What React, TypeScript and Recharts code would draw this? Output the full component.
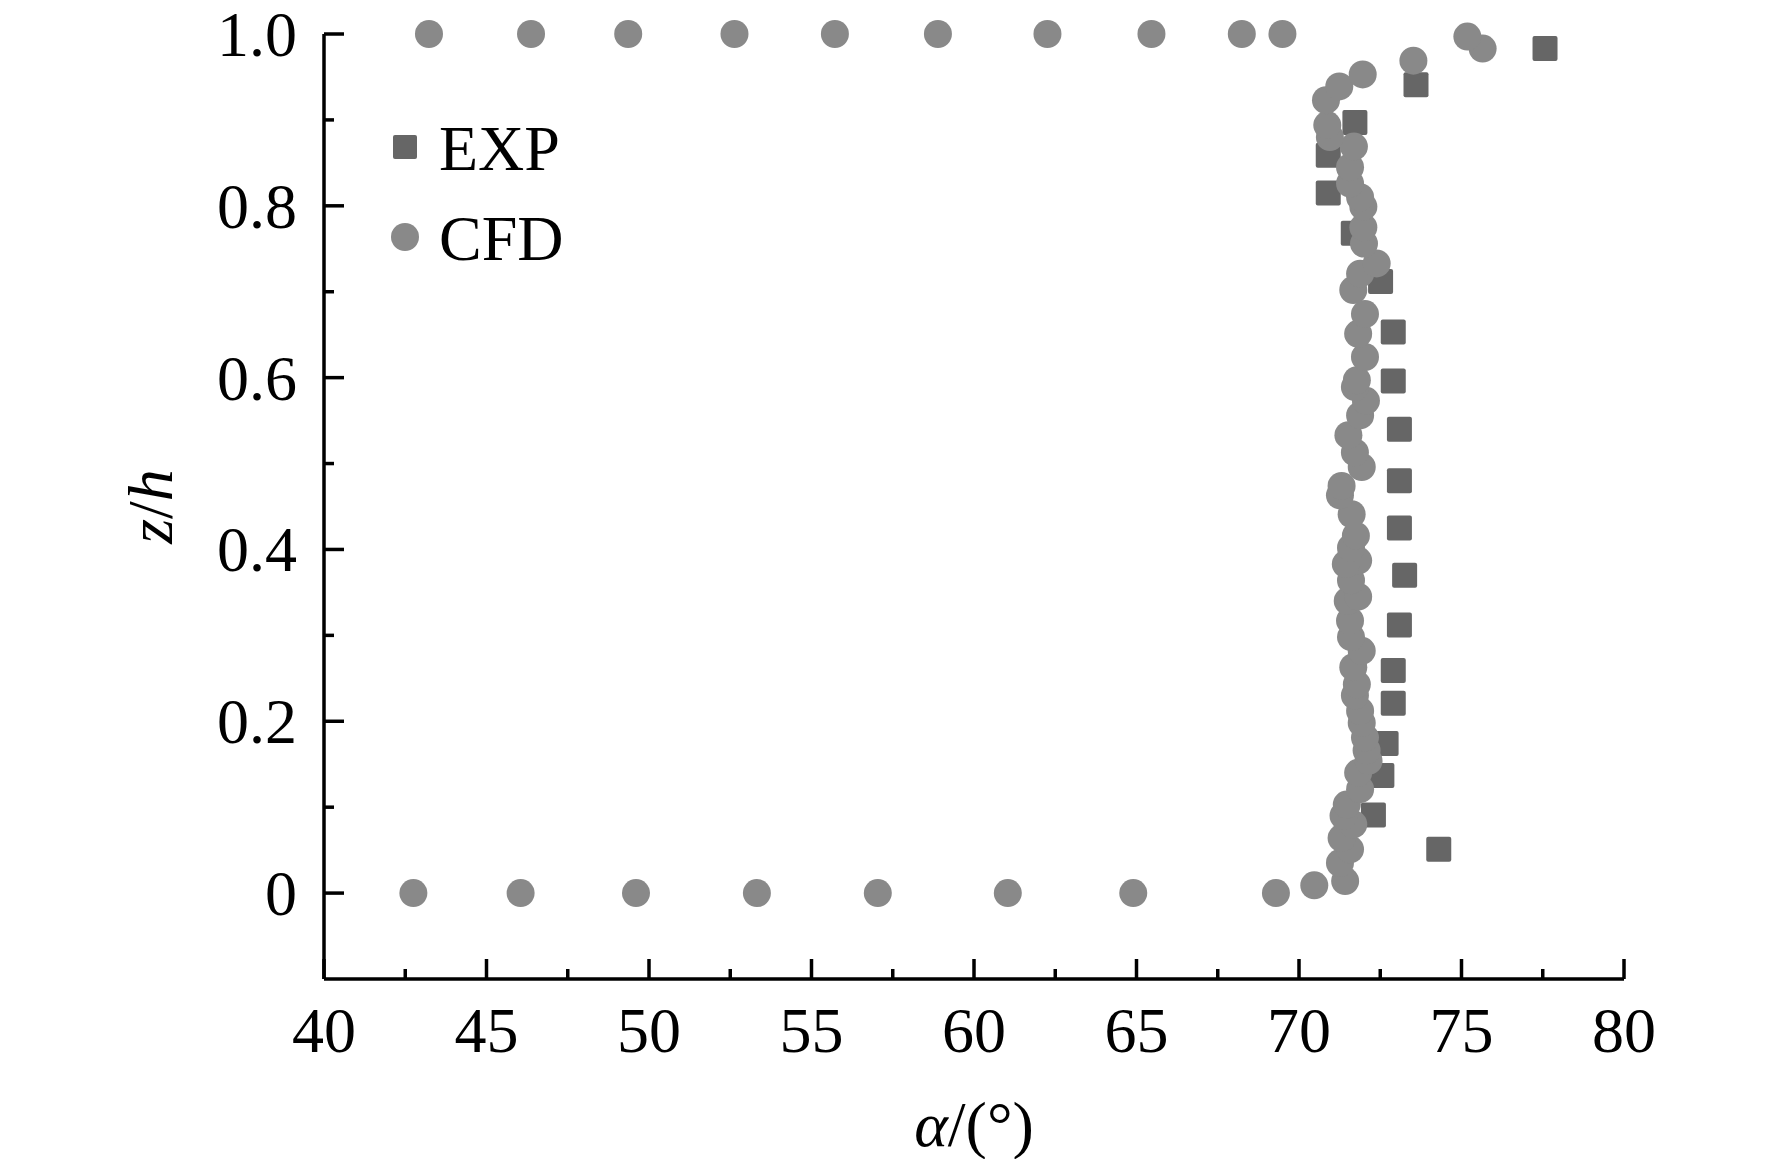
import { ScatterChart, Scatter, XAxis, YAxis, Legend, Label } from "recharts";

// EXP (measured) points: flow angle alpha (deg) vs z/h
const expAlpha = [77.57, 73.6, 71.72, 70.9, 70.9, 71.67, 72.51, 72.9, 72.9, 73.09, 73.09, 73.09, 73.25, 73.09, 72.9, 72.9, 72.68, 72.55, 72.29, 74.3];
const expZ = [0.983, 0.941, 0.897, 0.859, 0.815, 0.768, 0.712, 0.653, 0.596, 0.54, 0.48, 0.425, 0.37, 0.312, 0.259, 0.221, 0.174, 0.137, 0.091, 0.051];

// CFD points
const cfdAlpha = [
    42.75, 46.05, 49.6, 53.32, 57.04, 61.04, 64.9, 69.29,
    70.47, 71.42, 71.26, 71.57, 71.31, 71.67, 71.37, 71.47, 71.88, 71.82,
    72.14, 72.08, 72.03, 71.93, 71.88, 71.72, 71.78, 71.67, 71.93, 71.6,
    71.57, 71.5, 71.82, 71.6, 71.82, 71.44, 71.6, 71.75, 71.62, 71.26,
    71.31, 71.93, 71.72, 71.52, 71.88, 72.06, 71.72, 71.78, 72.03, 71.82,
    72.03, 71.67, 71.88, 72.39, 72.0, 71.98, 71.98, 71.88, 71.57, 71.57,
    71.69, 70.95, 70.87, 70.83, 71.24, 71.96, 73.52, 75.65, 75.18,
    43.23, 46.37, 49.36, 52.63, 55.72, 58.89, 62.26, 65.46, 68.24, 69.49,
];
const cfdZ = [
    0, 0, 0, 0, 0, 0, 0, 0,
    0.009, 0.014, 0.035, 0.051, 0.064, 0.08, 0.09, 0.103, 0.121, 0.14,
    0.154, 0.166, 0.181, 0.198, 0.212, 0.23, 0.243, 0.263, 0.282, 0.298,
    0.317, 0.34, 0.345, 0.364, 0.387, 0.383, 0.402, 0.416, 0.441, 0.463,
    0.474, 0.496, 0.513, 0.533, 0.556, 0.573, 0.589, 0.597, 0.624, 0.651,
    0.674, 0.702, 0.721, 0.733, 0.756, 0.775, 0.799, 0.81, 0.826, 0.845,
    0.869, 0.88, 0.894, 0.923, 0.939, 0.953, 0.969, 0.983, 0.997,
    1, 1, 1, 1, 1, 1, 1, 1, 1, 1,
];

const xTicks = [40, 42.5, 45, 47.5, 50, 52.5, 55, 57.5, 60, 62.5, 65, 67.5, 70, 72.5, 75, 77.5, 80];
const xTickLabels = ["40", "", "45", "", "50", "", "55", "", "60", "", "65", "", "70", "", "75", "", "80"];
const yTicks = [0, 0.1, 0.2, 0.3, 0.4, 0.5, 0.6, 0.7, 0.8, 0.9, 1.0];
const yTickLabels = ["0", "", "0.2", "", "0.4", "", "0.6", "", "0.8", "", "1.0"];
const legendOrder = ["EXP", "CFD"];

const FONT = "'Liberation Serif', 'Times New Roman', serif";
const EXP_COLOR = "#666666";
const CFD_COLOR = "#898989";

const expData = expAlpha.map((a, i) => ({ x: a, y: expZ[i] }));
const cfdData = cfdAlpha.map((a, i) => ({ x: a, y: cfdZ[i] }));

const SquareDot = (props: any) => {
    const { cx, cy } = props;
    return <rect x={cx - 12.5} y={cy - 12.5} width={25} height={25} rx={2} fill={EXP_COLOR} />;
};

const CircleDot = (props: any) => {
    const { cx, cy } = props;
    return <circle cx={cx} cy={cy} r={14} fill={CFD_COLOR} />;
};

const XTick = (props: any) => {
    const { x, y, index } = props;
    const label = xTickLabels[index];
    return (
        <g>
            <line x1={x} x2={x} y1={y} y2={y - (label ? 20 : 10)} stroke="#000" strokeWidth={3.5} />
            {label && (
                <text x={x} y={y + 73} textAnchor="middle" fontSize={64} fontFamily={FONT} fill="#000">
                    {label}
                </text>
            )}
        </g>
    );
};

const YTick = (props: any) => {
    const { x, y, index } = props;
    const label = yTickLabels[index];
    return (
        <g>
            <line x1={x} x2={x + (label ? 20 : 10)} y1={y} y2={y} stroke="#000" strokeWidth={3.5} />
            {label && (
                <text x={x - 27} y={y + 22} textAnchor="end" fontSize={64} fontFamily={FONT} fill="#000">
                    {label}
                </text>
            )}
        </g>
    );
};

const LegendBox = (props: any) => {
    const items = [...(props.payload || [])].sort(
        (a: any, b: any) => legendOrder.indexOf(a.value) - legendOrder.indexOf(b.value)
    );
    return (
        <svg width={260} height={180}>
            {items.map((entry: any, i: number) => {
                const cy = 39 + i * 90;
                return (
                    <g key={entry.value}>
                        {entry.value === "EXP" ? (
                            <rect x={5} y={cy - 12} width={24} height={24} rx={2} fill={EXP_COLOR} />
                        ) : (
                            <circle cx={17} cy={cy} r={14} fill={CFD_COLOR} />
                        )}
                        <text x={51} y={cy + 23} fontSize={64} fontFamily={FONT} fill="#000">
                            {entry.value}
                        </text>
                    </g>
                );
            })}
        </svg>
    );
};

export default function App() {
    return (
        <div style={{ margin: -8, width: 1772, height: 1167 }}>
            <ScatterChart
                width={1772}
                height={1167}
                margin={{ top: 34, right: 148, bottom: 38, left: 0 }}
                style={{ fontFamily: FONT }}
            >
                <XAxis
                    type="number"
                    dataKey="x"
                    domain={[40, 80]}
                    ticks={xTicks}
                    interval={0}
                    height={150}
                    tickSize={0}
                    tickMargin={0}
                    tickLine={false}
                    axisLine={{ stroke: "#000", strokeWidth: 3.5 }}
                    tick={<XTick />}
                >
                    <Label
                        content={(p: any) => {
                            const vb = p.viewBox;
                            return (
                                <text x={vb.x + vb.width / 2} y={vb.y + 167} textAnchor="middle" fontSize={64} fontFamily={FONT} fill="#000">
                                    <tspan fontStyle="italic">α</tspan>/(°)
                                </text>
                            );
                        }}
                    />
                </XAxis>
                <YAxis
                    type="number"
                    dataKey="y"
                    domain={[-0.1, 1.0]}
                    ticks={yTicks}
                    interval={0}
                    width={324}
                    tickSize={0}
                    tickMargin={0}
                    tickLine={false}
                    axisLine={{ stroke: "#000", strokeWidth: 3.5 }}
                    tick={<YTick />}
                >
                    <Label
                        content={(p: any) => {
                            const vb = p.viewBox;
                            const cy = vb.y + vb.height / 2;
                            return (
                                <text x={172} y={cy} transform={`rotate(-90 172 ${cy})`} textAnchor="middle" fontSize={64} fontFamily={FONT} fill="#000">
                                    <tspan fontStyle="italic">z</tspan>/<tspan fontStyle="italic">h</tspan>
                                </text>
                            );
                        }}
                    />
                </YAxis>
                <Legend
                    layout="vertical"
                    align="center"
                    verticalAlign="middle"
                    wrapperStyle={{ position: "absolute", left: 388, top: 108, width: 260, height: 180 }}
                    content={<LegendBox />}
                />
                <Scatter name="EXP" data={expData} fill={EXP_COLOR} shape={<SquareDot />} isAnimationActive={false} />
                <Scatter name="CFD" data={cfdData} fill={CFD_COLOR} shape={<CircleDot />} isAnimationActive={false} />
            </ScatterChart>
        </div>
    );
}
